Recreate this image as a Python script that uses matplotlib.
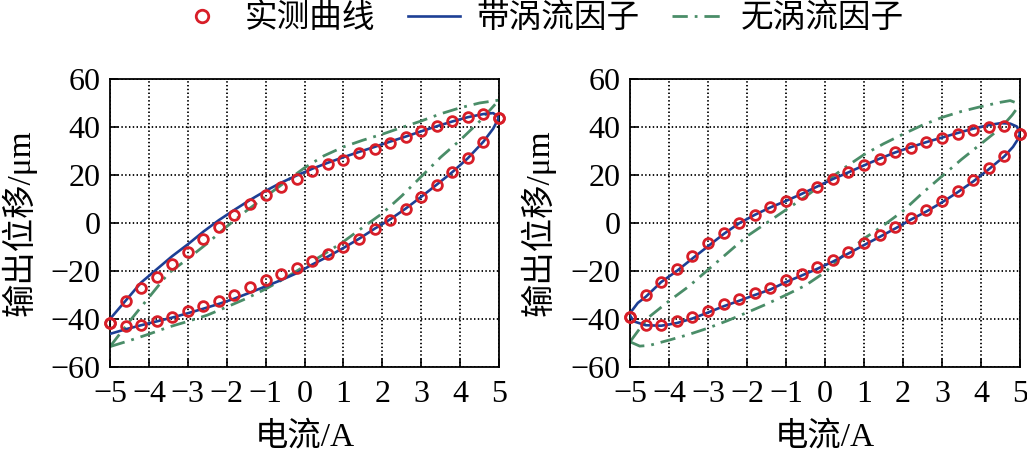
import matplotlib
matplotlib.use("Agg")
import matplotlib.pyplot as plt
from matplotlib.lines import Line2D

plt.rcParams['font.family'] = ['Liberation Serif', 'Noto Sans CJK SC']
plt.rcParams['axes.unicode_minus'] = True

# ---------------- data ----------------
X_MARK = [-5.0, -4.6, -4.2, -3.8, -3.4, -3.0, -2.6, -2.2, -1.8, -1.4, -1.0, -0.6, -0.2,
          0.2, 0.6, 1.0, 1.4, 1.8, 2.2, 2.6, 3.0, 3.4, 3.8, 4.2, 4.6, 5.0]

# left panel - measured
L_meas_up = [-41.6, -32.4, -27.2, -22.7, -17.0, -11.9, -6.7, -1.5, 3.2, 7.9, 11.7, 15.2, 18.5,
             21.5, 24.4, 26.3, 29.1, 30.9, 33.5, 35.9, 38.3, 40.3, 42.3, 44.1, 45.5, 43.7]
L_meas_dn = [-41.6, -43.0, -42.3, -41.0, -39.0, -36.8, -34.6, -32.3, -29.8, -26.5, -23.8, -21.4, -18.9,
             -16.0, -13.0, -9.9, -6.5, -2.7, 1.4, 5.9, 10.8, 15.7, 21.1, 27.0, 33.9, 43.7]

# left panel - with eddy-current factor
L_blue_x = [-5.0, -4.6, -4.2, -3.8, -3.4, -3.0, -2.6, -2.2, -1.8, -1.4, -1.0, -0.6, -0.2,
            0.2, 0.6, 1.0, 1.4, 1.8, 2.2, 2.6, 3.0, 3.4, 3.8, 4.2, 4.6, 4.85, 5.0]
L_blue_up = [-40.0, -32.4, -24.8, -19.3, -13.8, -8.9, -3.6, 1.2, 5.5, 9.6, 13.4, 16.8, 19.8,
             22.6, 25.1, 27.4, 29.6, 31.7, 33.9, 36.0, 38.2, 40.3, 42.3, 44.1, 45.4, 45.8, 44.0]
L_blue_dn = [-46.2, -44.3, -42.6, -41.0, -39.4, -37.6, -35.7, -33.7, -31.5, -29.0, -26.4, -23.8, -20.9,
             -17.3, -14.0, -10.4, -6.6, -2.4, 1.5, 6.0, 10.9, 16.0, 21.2, 27.0, 33.9, 39.3, 44.0]

# left panel - without eddy-current factor
L_green_x = [-5.0, -4.5, -4.0, -3.5, -3.0, -2.5, -2.0, -1.5, -1.0, -0.5, 0.0,
             0.5, 1.0, 1.5, 2.0, 2.5, 3.0, 3.5, 4.0, 4.5, 5.0]
L_green_up = [-51.5, -41.0, -31.0, -21.0, -14.9, -8.5, -1.5, 5.0, 11.0, 17.0, 23.0,
              28.0, 31.7, 34.5, 37.0, 39.8, 42.5, 45.5, 48.0, 50.0, 51.2]
L_green_dn = [-51.5, -49.0, -46.3, -43.4, -41.0, -38.4, -35.0, -31.5, -27.5, -23.0, -18.0,
              -13.0, -7.8, -1.8, 4.0, 11.3, 19.3, 27.4, 34.5, 42.3, 51.2]

# right panel - measured
R_meas_up = [-39.3, -29.9, -24.4, -19.3, -13.8, -8.5, -4.0, -0.1, 3.3, 6.5, 9.1, 12.1, 15.2,
             18.3, 21.1, 24.0, 26.8, 29.4, 31.4, 33.7, 35.4, 37.2, 38.6, 39.9, 40.3, 37.2]
R_meas_dn = [-39.3, -42.7, -42.3, -40.9, -39.0, -36.5, -33.9, -31.6, -29.2, -26.9, -23.8, -21.1, -18.3,
             -15.3, -11.9, -8.4, -5.0, -1.5, 2.2, 5.4, 9.2, 13.4, 17.8, 22.8, 27.9, 37.2]

# right panel - with eddy-current factor
R_blue_up_x = [-5.02, -4.8, -4.6, -4.2, -3.8, -3.4, -3.0, -2.6, -2.2, -1.8, -1.4, -1.0, -0.6, -0.2,
               0.2, 0.6, 1.0, 1.4, 1.8, 2.2, 2.6, 3.0, 3.4, 3.8, 4.2, 4.5, 4.75, 4.92, 5.0]
R_blue_up = [-38.0, -33.3, -30.8, -24.6, -20.0, -14.8, -9.7, -4.6, -0.1, 3.4, 6.5, 9.2, 12.1, 15.2,
             18.3, 21.1, 24.0, 26.8, 29.4, 31.6, 33.7, 35.6, 37.5, 39.3, 40.8, 41.6, 41.4, 40.2, 37.3]
R_blue_dn_x = [-5.02, -4.9, -4.6, -4.2, -3.8, -3.4, -3.0, -2.6, -2.2, -1.8, -1.4, -1.0, -0.6, -0.2,
               0.2, 0.6, 1.0, 1.4, 1.8, 2.2, 2.6, 3.0, 3.4, 3.8, 4.2, 4.6, 4.82, 4.95, 5.0]
R_blue_dn = [-38.0, -41.0, -42.6, -42.8, -41.7, -39.8, -37.3, -34.7, -32.4, -30.0, -27.7, -24.6, -21.9, -19.1,
             -16.1, -12.7, -9.2, -5.8, -2.3, 1.4, 4.8, 8.6, 12.8, 17.3, 22.4, 27.8, 31.7, 35.0, 37.3]

# right panel - without eddy-current factor
R_green_up_x = [-5.0, -4.75, -4.5, -4.0, -3.5, -3.0, -2.5, -2.0, -1.5, -1.0, -0.5, 0.0,
                0.5, 1.0, 1.5, 2.0, 2.5, 3.0, 3.5, 4.0, 4.5, 4.75, 5.0]
R_green_up = [-49.5, -44.0, -39.0, -32.5, -26.5, -19.5, -12.5, -5.5, 0.0, 5.5, 11.0, 17.0,
              23.0, 28.5, 33.0, 37.0, 40.8, 44.0, 46.5, 48.5, 50.3, 51.0, 49.5]
R_green_dn_x = [-5.0, -4.75, -4.5, -4.0, -3.5, -3.0, -2.5, -2.0, -1.5, -1.0, -0.5, 0.0,
                0.5, 1.0, 1.5, 2.0, 2.5, 3.0, 3.5, 4.0, 4.5, 4.8, 5.0]
R_green_dn = [-49.5, -51.3, -51.0, -48.8, -46.5, -43.8, -40.7, -37.3, -33.8, -30.0, -26.0, -20.5,
              -13.0, -6.5, -1.0, 5.0, 12.5, 19.5, 26.5, 33.0, 39.5, 45.0, 49.5]

X_TICKS = [-5, -4, -3, -2, -1, 0, 1, 2, 3, 4, 5]
Y_TICKS = [-60, -40, -20, 0, 20, 40, 60]
LEG_LABELS = ['实测曲线', '带涡流因子', '无涡流因子']
X_LABEL = '电流/A'
Y_LABEL = '输出位移/μm'

# ---------------- style ----------------
RED = '#d81e28'
BLUE = '#1d3f95'
GREEN = '#4a8d68'
DASHDOT = (0, (5.5, 2.5, 1, 2.5))
FS_TICK = 23
FS_LAB = 24
FS_LEG = 23.5

fig = plt.figure(figsize=(10.27, 4.73), dpi=100)
ax1 = fig.add_axes([110 / 1027, 1 - 367 / 473, 389 / 1027, 288 / 473])
ax2 = fig.add_axes([630 / 1027, 1 - 367 / 473, 390 / 1027, 288 / 473])

panels = [
    (ax1, L_meas_up, L_meas_dn, L_blue_x, L_blue_up, L_blue_x, L_blue_dn,
     L_green_x, L_green_up, L_green_x, L_green_dn),
    (ax2, R_meas_up, R_meas_dn, R_blue_up_x, R_blue_up, R_blue_dn_x, R_blue_dn,
     R_green_up_x, R_green_up, R_green_dn_x, R_green_dn),
]

for (ax, mu, md, bux, bu, bdx, bd, gux, gu, gdx, gd) in panels:
    ax.plot(gux, gu, color=GREEN, lw=2.0, ls=DASHDOT, zorder=2)
    ax.plot(gdx, gd, color=GREEN, lw=2.0, ls=DASHDOT, zorder=2)
    ax.plot(bux, bu, color=BLUE, lw=1.9, zorder=3)
    ax.plot(bdx, bd, color=BLUE, lw=1.9, zorder=3)
    for ys in (mu, md):
        ax.plot(X_MARK, ys, ls='none', marker='o', ms=7, mfc='none',
                mec=RED, mew=2.0, zorder=4, clip_on=False)
    ax.set_xlim(-5, 5)
    ax.set_ylim(-60, 60)
    ax.set_xticks(X_TICKS)
    ax.set_yticks(Y_TICKS)
    ax.grid(True, color='black', ls=(0, (0.8, 1.3)), lw=1.3)
    ax.set_axisbelow(True)
    ax.tick_params(direction='in', length=6, width=1.2, labelsize=FS_TICK,
                   top=False, right=False)
    ax.tick_params(axis='x', pad=9)
    ax.tick_params(axis='y', pad=7)
    for sp in ax.spines.values():
        sp.set_linewidth(1.3)
    ax.set_xlabel(X_LABEL, fontsize=FS_LAB)
    ax.set_ylabel(Y_LABEL, fontsize=FS_LAB)
    ax.xaxis.set_label_coords(0.5, -0.19)
    ax.yaxis.set_label_coords(-0.19, 0.5)

handles = [
    Line2D([], [], ls='none', marker='o', ms=9, mfc='none', mec=RED, mew=2.0),
    Line2D([], [], color=BLUE, lw=1.9),
    Line2D([], [], color=GREEN, lw=2.0, ls=DASHDOT),
]
fig.legend(handles, LEG_LABELS, loc='center', bbox_to_anchor=(540 / 1027, 1 - 19 / 473),
           ncol=3, frameon=False, fontsize=FS_LEG, handlelength=1.6, handletextpad=0.5,
           columnspacing=1.0, borderpad=0.2)

fig.savefig('out.png', dpi=100)
